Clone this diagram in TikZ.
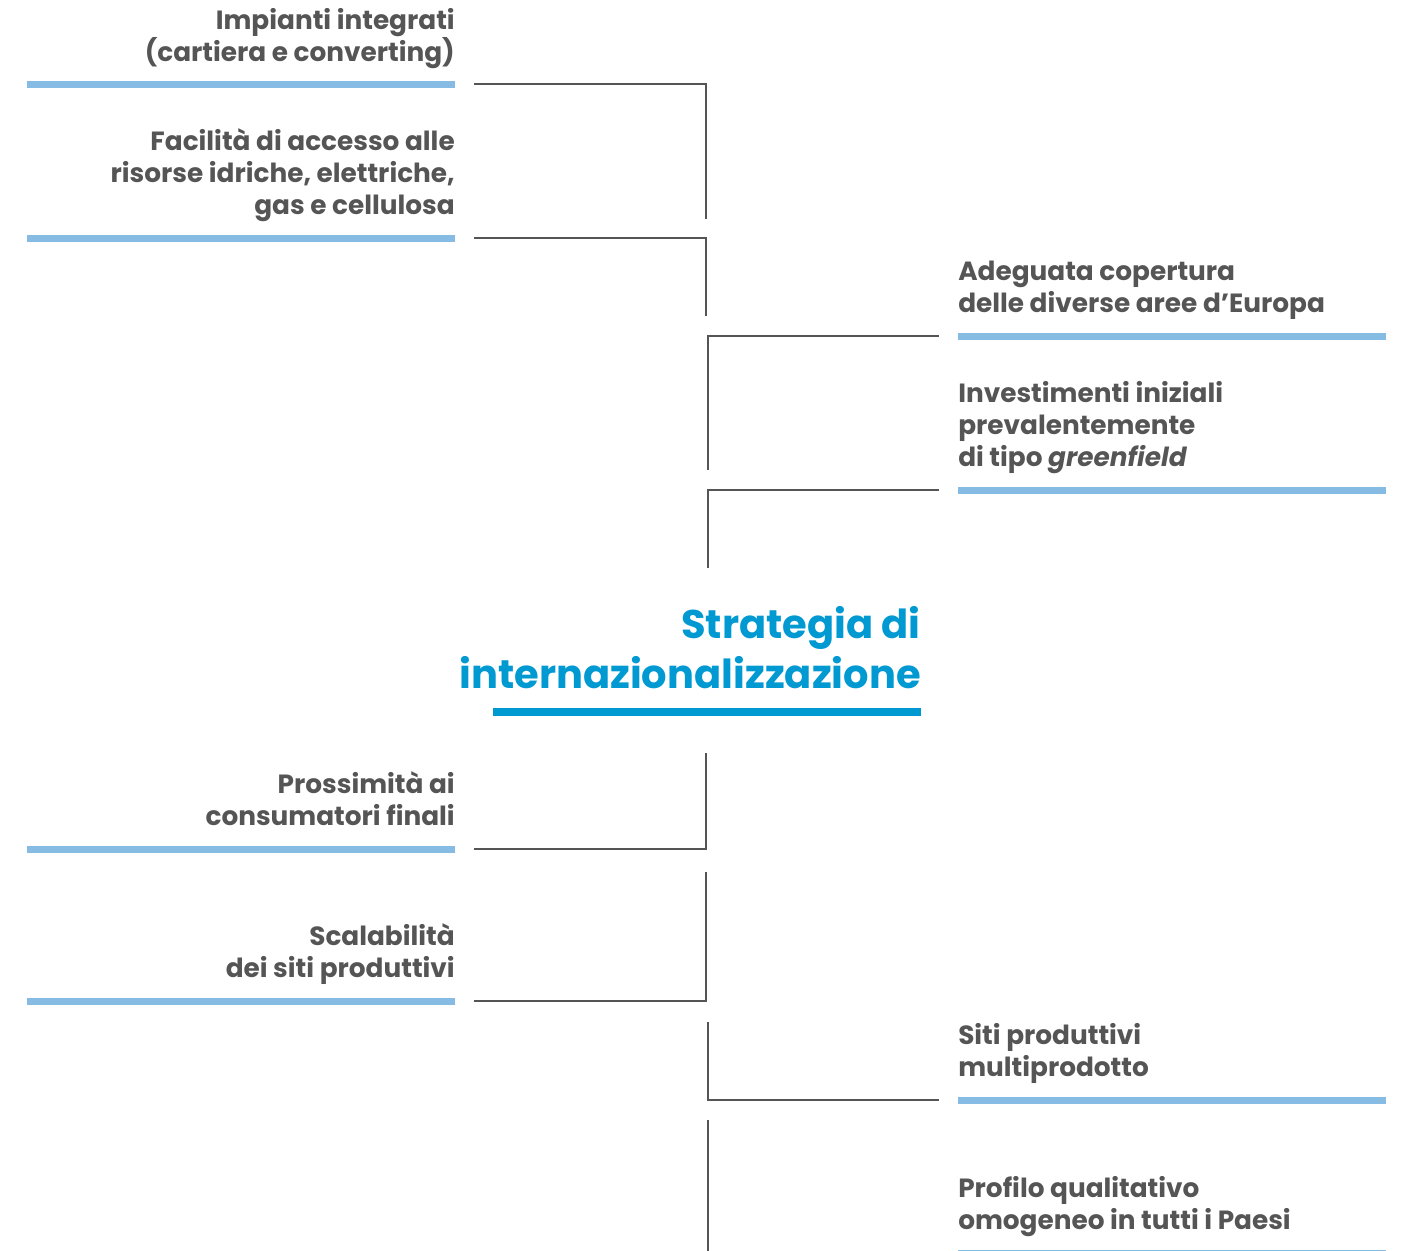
\documentclass[tikz,border=0pt]{standalone}
\usepackage{fontspec}
\setmainfont{Poppins}
\usepackage{xcolor}
\usetikzlibrary{positioning,calc}

\definecolor{txtgray}{HTML}{555555}
\definecolor{barblue}{HTML}{86BBE3}
\definecolor{titleblue}{HTML}{0099D2}

\begin{document}
\begin{tikzpicture}[
  x=0.75pt, y=-0.75pt,
  item/.style={inner sep=0pt, text depth=0pt, text=txtgray, font=\fontsize{19.75}{24}\selectfont\bfseries},
  leftitem/.style={item, anchor=south east, align=right},
  rightitem/.style={item, anchor=south west, align=left},
  bar/.style={fill=barblue, draw=none, inner sep=0pt, minimum width=321pt, minimum height=5.25pt},
  link/.style={draw=txtgray, line width=0.9pt}
]
\useasboundingbox (0,0) rectangle (1403,1250);

% Left column
\node[bar] (b1) at (241,84) {};
\node[leftitem] (i1) at (455,62) {Impianti integrati\\(cartiera e converting)};
\node[bar] (b2) at (241,238) {};
\node[leftitem] (i2) at (455,215) {Facilità di accesso alle\\risorse idriche, elettriche,\\gas e cellulosa};

% Right column
\node[bar] (b3) at (1172,336) {};
\node[rightitem] (i3) at (958,313) {Adeguata copertura\\delle diverse aree d’Europa};
\node[bar] (b4) at (1172,490) {};
\node[rightitem] (i4) at (958,467) {Investimenti iniziali\\prevalentemente\\di tipo \textit{greenfield}};

% Centre: title
\node[anchor=south east, inner sep=0pt, text depth=0pt, align=right, text=titleblue,
  font=\fontsize{30}{37.5}\selectfont\bfseries] (title) at (921,689) {Strategia di\\internazionalizzazione};
\node[fill=titleblue, inner sep=0pt, minimum width=321pt, minimum height=5.5pt] (tbar) at (707,712) {};

% Left column, lower
\node[bar] (b5) at (241,849) {};
\node[leftitem] (i5) at (455,826) {Prossimità ai\\consumatori finali};
\node[bar] (b6) at (241,1001) {};
\node[leftitem] (i6) at (455,978) {Scalabilità\\dei siti produttivi};

% Right column, lower
\node[bar] (b7) at (1172,1100) {};
\node[rightitem] (i7) at (958,1077) {Siti produttivi\\multiprodotto};
\node[bar] (b8) at (1172,1253.5) {};
\node[rightitem] (i8) at (958,1230) {Profilo qualitativo\\omogeneo in tutti i Paesi};

% Connectors
\coordinate (t1) at (706,219);
\coordinate (t2) at (706,316);
\coordinate (t3) at (708,470);
\coordinate (t4) at (708,568);
\coordinate (t5) at (706,753);
\coordinate (t6) at (706,872);
\coordinate (t7) at (708,1022);
\coordinate (t8) at (708,1120);
\coordinate (e8) at (708,1260);

\draw[link] ([xshift=14.25pt]b1.east) -| (t1);
\draw[link] ([xshift=14.25pt]b2.east) -| (t2);
\draw[link] ([xshift=-14.25pt]b3.west) -| (t3);
\draw[link] ([xshift=-14.25pt]b4.west) -| (t4);
\draw[link] (t5) |- ([xshift=14.25pt]b5.east);
\draw[link] (t6) |- ([xshift=14.25pt]b6.east);
\draw[link] (t7) |- ([xshift=-14.25pt]b7.west);
\draw[link] (t8) -- (e8);

\end{tikzpicture}
\end{document}
